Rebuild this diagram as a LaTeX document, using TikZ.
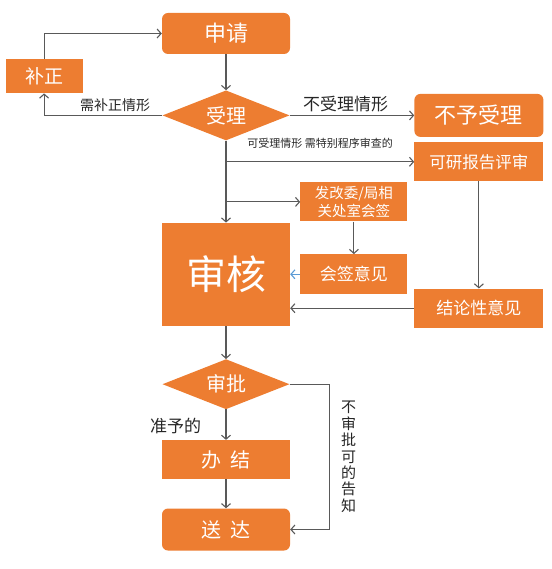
\documentclass[tikz,border=0pt]{standalone}
\usepackage{fontspec}
\setmainfont{Noto Sans CJK SC}
\usetikzlibrary{positioning,arrows.meta,shapes.geometric}
\definecolor{boxorange}{RGB}{237,125,49}
\definecolor{linegray}{RGB}{89,89,89}
\definecolor{tipblue}{RGB}{91,155,213}
\begin{document}
\begin{tikzpicture}
    [box/.style={rectangle,fill=boxorange,text=white,inner sep=0pt},
     rbox/.style={box,rounded corners=6pt},
     dia/.style={diamond,fill=boxorange,text=white,inner sep=0pt,
       minimum width=127pt,minimum height=50pt,aspect=2.54},
     flow/.style={draw=linegray,line width=1.1pt,-{Straight Barb[length=4pt,width=9pt]}},
     lbl/.style={text=black!85}]

    \useasboundingbox (0,0) rectangle (551pt,-569pt);

    \node[rbox,minimum width=128pt,minimum height=41pt,font=\fontsize{22pt}{26pt}\selectfont] (apply) at (226pt,-33.5pt) {申请};
    \node[dia,font=\fontsize{20pt}{24pt}\selectfont] (accept) [below=36pt of apply] {受理};
    \node[box,minimum width=77pt,minimum height=34pt,font=\fontsize{19pt}{23pt}\selectfont] (fix) [above left=22pt and 79.5pt of accept.west] {补正};
    \node[rbox,minimum width=129pt,minimum height=43pt,font=\fontsize{22pt}{26pt}\selectfont] (reject) [right=124.5pt of accept] {不予受理};
    \node[box,minimum width=129pt,minimum height=39pt,font=\fontsize{16.5pt}{20pt}\selectfont] (study) [below=5pt of reject] {可研报告评审};
    \node[box,minimum width=128pt,minimum height=103pt,font=\fontsize{40pt}{46pt}\selectfont] (review) [below=82pt of accept] {审核};
    \node[box,minimum width=107pt,minimum height=39pt,align=center,font=\fontsize{14.5pt}{18pt}\selectfont] (sign) [above right=1pt and 10pt of review.north east] {发改委/局相\\关处室会签};
    \node[box,minimum width=107pt,minimum height=40pt,font=\fontsize{17pt}{20pt}\selectfont] (opinion) [right=10pt of review] {会签意见};
    \node[box,minimum width=129pt,minimum height=39pt,font=\fontsize{17pt}{20pt}\selectfont] (concl) [below=107pt of study] {结论性意见};
    \node[dia,font=\fontsize{20pt}{24pt}\selectfont] (approve) [below=33pt of review] {审批};
    \node[box,minimum width=128pt,minimum height=39pt,font=\fontsize{20pt}{24pt}\selectfont] (finish) [below=30.5pt of approve] {办\hspace{9pt}结};
    \node[rbox,minimum width=128pt,minimum height=42pt,font=\fontsize{20pt}{24pt}\selectfont] (deliver) [below=29pt of finish] {送\hspace{9pt}达};

    \draw[flow] (fix.north) |- (apply.west);
    \draw[flow] (apply) -- (accept);
    \draw[flow] (accept.west) -| node[lbl,above,pos=0.2,font=\fontsize{14pt}{17pt}\selectfont] {需补正情形} (fix.south);
    \draw[flow] (accept.east) -- node[lbl,above,pos=0.45,font=\fontsize{17pt}{20pt}\selectfont] {不受理情形} (reject.west);
    \draw[flow] (accept.south) -- (review.north);
    \draw[flow] (accept.south |- study.west) -- node[lbl,above=9pt,font=\fontsize{11pt}{13pt}\selectfont] {可受理情形 需特别程序审查的} (study.west);
    \draw[flow] (accept.south |- sign.west) -- (sign.west);
    \draw[flow] (sign) -- (opinion);
    \draw[flow,draw=tipblue] (opinion) -- (review);
    \draw[flow] (study) -- (concl);
    \draw[flow] (concl.west) -- (review.east |- concl.west);
    \draw[flow] (review) -- (approve);
    \draw[flow] (approve) -- node[lbl,left=21pt,pos=0.55,font=\fontsize{17pt}{20pt}\selectfont] {准予的} (finish);
    \draw[flow] (finish) -- (deliver);
    \draw[flow] (approve.east) -- ++(39.5pt,0) |- node[lbl,right=8pt,pos=0.25,align=center,font=\fontsize{15pt}{16.4pt}\selectfont] {不\\审\\批\\可\\的\\告\\知} (deliver.east);
\end{tikzpicture}
\end{document}
